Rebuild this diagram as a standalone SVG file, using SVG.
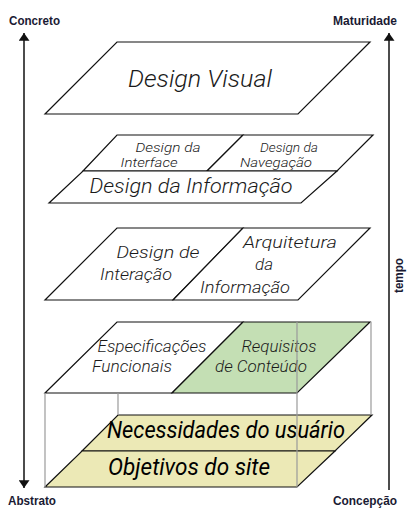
<svg xmlns="http://www.w3.org/2000/svg" width="413" height="514" viewBox="0 0 413 514">
<defs>
<marker id="ah" viewBox="0 0 10 14" refX="10" refY="7" markerWidth="8" markerHeight="11" orient="auto-start-reverse" markerUnits="userSpaceOnUse">
<path d="M0,0 L10,7 L0,14 Z" fill="#111"/>
</marker>
<style>
.pl{fill:#fff;stroke:#111;stroke-width:1.2;stroke-linejoin:miter}
.gr{fill:#c4dfb4}
.ye{fill:#ece9b6}
.edge{stroke:#9a9a9a;stroke-width:1.2;fill:none}
.ax{stroke:#111;stroke-width:1.5;fill:none}
.it{font-family:Roboto,"Liberation Sans",sans-serif;font-style:italic;font-weight:300;fill:#1a1a1a;text-anchor:middle}
.dk{font-weight:400;fill:#000}
.lb{font-family:"Liberation Sans Narrow","Liberation Sans",sans-serif;font-weight:bold;font-size:13px;fill:#1a1a33}
</style>
</defs>
<rect width="413" height="514" fill="#fff"/>

<g id="design-visual">
<polygon class="pl" points="117,42 370,42 298,114 45,114"/>
<text class="it" x="200" y="87" font-size="24" textLength="144" lengthAdjust="spacingAndGlyphs">Design Visual</text>
</g>

<g id="design-interface">
<polygon class="pl" points="117,135 243,135 207,171 83,171"/>
<text class="it" x="168" y="152" font-size="13" textLength="65" lengthAdjust="spacingAndGlyphs">Design da</text>
<text class="it" x="149" y="167" font-size="13" textLength="57" lengthAdjust="spacingAndGlyphs">Interface</text>
</g>
<g id="design-navegacao">
<polygon class="pl" points="243,135 373,135 337,171 207,171"/>
<text class="it" x="289" y="152" font-size="13" textLength="58" lengthAdjust="spacingAndGlyphs">Design da</text>
<text class="it" x="276" y="167" font-size="13" textLength="72" lengthAdjust="spacingAndGlyphs">Navegação</text>
</g>
<g id="design-informacao">
<polygon class="pl" points="83,171 337,171 301,203 49,203"/>
<text class="it" x="191" y="193" font-size="21" textLength="203" lengthAdjust="spacingAndGlyphs">Design da Informação</text>
</g>

<g id="design-interacao">
<polygon class="pl" points="117,228 243,228 173,300 45,300"/>
<text class="it" x="158" y="258" font-size="17" textLength="83" lengthAdjust="spacingAndGlyphs">Design de</text>
<text class="it" x="136" y="280" font-size="17" textLength="72" lengthAdjust="spacingAndGlyphs">Interação</text>
</g>
<g id="arquitetura-informacao">
<polygon class="pl" points="243,228 370,228 298,300 173,300"/>
<text class="it" x="290" y="248" font-size="17" textLength="94" lengthAdjust="spacingAndGlyphs">Arquitetura</text>
<text class="it" x="264" y="270" font-size="17" textLength="18" lengthAdjust="spacingAndGlyphs">da</text>
<text class="it" x="245" y="293" font-size="17" textLength="90" lengthAdjust="spacingAndGlyphs">Informação</text>
</g>

<g id="especificacoes-funcionais">
<polygon class="pl" points="117,322 243,322 172,393 45,393"/>
<text class="it" x="152" y="352" font-size="16" textLength="109" lengthAdjust="spacingAndGlyphs">Especificações</text>
<text class="it" x="132" y="372" font-size="16" textLength="80" lengthAdjust="spacingAndGlyphs">Funcionais</text>
</g>
<g id="requisitos-conteudo">
<polygon class="pl gr" points="243,322 370,322 297,393 172,393"/>
<text class="it" x="279" y="352" font-size="16" textLength="75" lengthAdjust="spacingAndGlyphs">Requisitos</text>
<text class="it" x="261" y="372" font-size="16" textLength="92" lengthAdjust="spacingAndGlyphs">de Conteúdo</text>
</g>

<g id="necessidades-usuario">
<polygon class="pl ye" points="118,415 372,415 335,451 82,451"/>
<text class="it dk" x="226" y="438" font-size="24" textLength="238" lengthAdjust="spacingAndGlyphs">Necessidades do usuário</text>
</g>
<g id="objetivos-site">
<polygon class="pl ye" points="82,451 335,451 297,487 45,487"/>
<text class="it dk" x="189" y="475" font-size="24" textLength="162" lengthAdjust="spacingAndGlyphs">Objetivos do site</text>
</g>

<g id="connectors">
<line class="edge" x1="45" y1="393" x2="45" y2="487"/>
<line class="edge" x1="118" y1="393" x2="118" y2="415"/>
<line class="edge" x1="297" y1="322" x2="297" y2="487"/>
<line class="edge" x1="371" y1="322" x2="371" y2="415"/>
<line class="ax" x1="24" y1="33" x2="24" y2="488" marker-start="url(#ah)" marker-end="url(#ah)"/>
<line class="ax" x1="389" y1="33" x2="389" y2="490" marker-start="url(#ah)"/>
</g>

<g id="labels">
<text class="lb" x="9" y="25" textLength="51" lengthAdjust="spacingAndGlyphs">Concreto</text>
<text class="lb" x="333" y="25" textLength="64" lengthAdjust="spacingAndGlyphs">Maturidade</text>
<text class="lb" x="8" y="505" textLength="48" lengthAdjust="spacingAndGlyphs">Abstrato</text>
<text class="lb" x="333" y="505" textLength="64" lengthAdjust="spacingAndGlyphs">Concepção</text>
<text class="lb" transform="translate(403,293) rotate(-90)" x="0" y="0" textLength="35" lengthAdjust="spacingAndGlyphs">tempo</text>
</g>
</svg>
